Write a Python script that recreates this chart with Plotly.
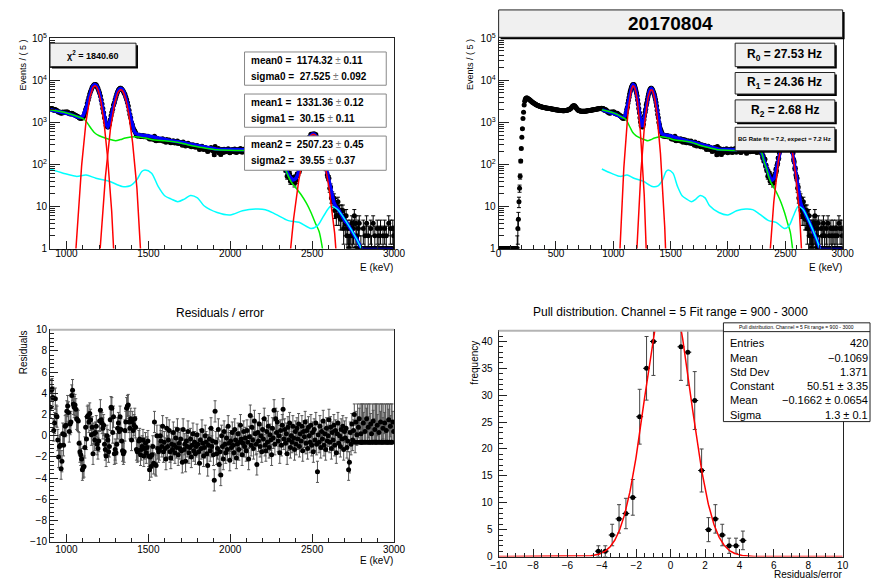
import numpy as np
import plotly.graph_objects as go

W, H = 883, 586
FONT = "Liberation Sans, Arial, Helvetica, sans-serif"

# ---------------- spectrum (5 keV bins) ----------------
# counts below the fit window, bins 0-900 keV
low_counts = [
    0, 0, 0, 0, 0, 0, 0, 0, 0, 0, 0, 0, 0, 0, 0, 0,
    0, 0, 0, 0, 0, 0, 0, 0, 0, 0, 0, 0, 0, 0, 0, 0,
    1, 3, 5, 13, 27, 52, 120, 240, 440, 710,
    1240, 1750, 2600, 3200, 3550, 3750, 3820, 3800, 3740, 3660,
    3570, 3480, 3390, 3300, 3220, 3140, 3060, 2990,
    2920, 2860, 2800, 2740, 2690, 2640, 2590, 2550, 2510, 2470,
    2440, 2410, 2380, 2360, 2340, 2320, 2300, 2280, 2260, 2250,
    2230, 2220, 2200, 2190, 2180, 2170, 2160, 2150, 2140, 2130,
    2110, 2100, 2090, 2080, 2060, 2050, 2040, 2020, 2010, 2000,
    1990, 1980, 1970, 1960, 1950, 1940, 1930, 1925, 1915, 1910,
    1905, 1900, 1900, 1895, 1900, 1905, 1910, 1920, 1935, 1950,
    1970, 1990, 2010, 2040, 2080, 2130, 2200, 2290, 2380, 2450,
    2490, 2500, 2470, 2400, 2300, 2200, 2100, 2030, 1970, 1930,
    1900, 1880, 1860, 1850, 1840, 1835, 1830, 1830, 1830, 1835,
    1840, 1850, 1860, 1870, 1880, 1890, 1900, 1910, 1920, 1930,
    1940, 1950, 1960, 1970, 1985, 2000, 2010, 2020, 2035, 2050,
    2060, 2070, 2085, 2100, 2110, 2120, 2130, 2140, 2150, 2170,
]

# counts in the fit window, bins 900-3000 keV
counts = [
    2086, 2140, 2129, 2080, 1932, 1947, 2030, 1947, 1927, 1818, 1734, 1762, 1751, 1642, 1662, 1764, 1706, 1734, 1754, 1736,
    1770, 1760, 1706, 1606, 1602, 1580, 1647, 1635, 1554, 1511, 1498, 1463, 1409, 1389, 1369, 1284, 1255, 1251, 1259, 1267,
    1344, 1459, 1701, 2027, 2306, 2837, 3372, 3964, 4723, 5438, 6091, 6844, 7213, 7781, 7920, 7932, 7704, 7067, 6383, 5671,
    4990, 4240, 3417, 2726, 2135, 1691, 1280, 1023, 848, 813, 780, 787, 903, 1152, 1432, 1749, 2045, 2582, 2927, 3516,
    4096, 4738, 5388, 5895, 6187, 6504, 6458, 6257, 5921, 5500, 5016, 4587, 4040, 3515, 2958, 2448, 1937, 1546, 1288, 998,
    880, 737, 664, 620, 563, 491, 476, 474, 493, 495, 460, 470, 476, 488, 455, 467, 475, 451, 458, 466,
    432, 400, 423, 401, 419, 430, 389, 465, 375, 367, 417, 388, 377, 377, 399, 386, 372, 407, 357, 373,
    360, 337, 392, 356, 365, 380, 339, 326, 348, 336, 365, 339, 324, 348, 330, 360, 313, 332, 320, 333,
    311, 287, 341, 303, 309, 276, 308, 295, 318, 279, 284, 295, 263, 281, 295, 266, 278, 256, 266, 283,
    263, 248, 227, 260, 245, 270, 249, 227, 237, 253, 241, 221, 203, 231, 238, 219, 251, 224, 229, 207,
    170, 268, 223, 205, 212, 238, 188, 205, 172, 227, 212, 193, 231, 213, 201, 221, 205, 237, 213, 189,
    216, 206, 227, 210, 199, 232, 217, 192, 211, 226, 204, 214, 238, 218, 196, 212, 229, 208, 220, 202,
    231, 215, 191, 222, 252, 210, 236, 218, 206, 245, 227, 212, 184, 228, 216, 240, 209, 224, 201, 233,
    219, 247, 210, 202, 229, 213, 235, 205, 222, 214, 193, 229, 215, 253, 205, 236, 212, 219, 185, 182,
    146, 157, 121, 128, 132, 93, 94, 74, 75, 52, 66, 52, 60, 40, 45, 40, 48, 42, 35, 49,
    42, 57, 56, 76, 70, 95, 106, 142, 139, 191, 218, 275, 278, 338, 345, 421, 440, 457, 519, 495,
    532, 495, 537, 502, 516, 446, 360, 396, 345, 332, 258, 245, 199, 188, 130, 116, 80, 80, 56, 48,
    47, 27, 29, 16, 18, 13, 16, 8, 12, 6, 10, 13, 6, 8, 5, 8, 5, 8, 3, 6,
    4, 6, 2, 3, 1, 1, 3, 2, 4, 2, 3, 6, 1, 4, 2, 0, 3, 4, 0, 1,
    0, 0, 3, 0, 2, 0, 4, 0, 2, 0, 0, 3, 1, 0, 4, 0, 2, 0, 0, 3,
    0, 2, 0, 3, 0, 0, 2, 0, 3, 0, 2, 0, 0, 4, 0, 3, 0, 0, 3, 2,
]

# (data - fit) / error for each bin of the fit window
residuals = [
    2.7, 4.3, 4.4, 3.6, 0.5, 1.2, 3.5, 1.9, 1.8, -0.4, -2.0, -1.0, -0.9, -3.1, -2.4, 0.2, -0.9, 0.1, 0.9, 1.0,
    2.3, 2.8, 2.2, 0.4, 1.1, 1.3, 3.8, 4.3, 3.0, 2.7, 2.9, 2.5, 1.6, 1.5, 1.4, -0.7, -1.5, -1.8, -2.2, -3.2,
    -3.0, -2.9, -1.1, 0.8, -0.3, 1.8, 1.9, 1.3, 2.1, 1.5, 0.1, 0.8, -1.7, 0.2, -0.4, 0.3, 0.9, -0.8, -1.2, -0.5,
    1.4, 2.4, 1.5, 1.2, 0.7, 1.0, -0.8, -1.3, -1.9, 0.0, -0.4, -1.5, -1.0, 1.5, 2.7, 2.6, 0.3, 1.8, -1.7, -1.3,
    -1.6, -0.8, 0.7, 1.2, 0.4, 1.8, 0.6, -0.5, -1.4, -1.7, -1.5, 0.5, 1.3, 2.6, 2.8, 2.9, 1.3, 0.7, 1.6, -0.4,
    1.3, 0.5, 1.0, 1.6, 0.8, -1.3, -1.5, -1.4, -0.5, -0.3, -1.8, -1.3, -1.0, -0.4, -1.9, -1.2, -0.7, -1.6, -1.1, -0.5,
    -1.9, -3.2, -2.0, -2.9, -1.8, -1.0, -2.6, 1.3, -2.7, -2.8, 0.0, -1.2, -1.5, -1.3, 0.0, -0.5, -1.0, 0.9, -1.5, -0.6,
    -1.2, -2.2, 0.7, -1.0, -0.4, 0.5, -1.5, -2.1, -0.8, -1.3, 0.3, -0.9, -1.6, -0.2, -1.1, 0.6, -1.8, -0.7, -1.2, -0.3,
    -1.4, -2.5, 0.6, -1.3, -0.8, -2.4, -0.5, -1.0, 0.4, -1.6, -1.1, -0.3, -2.0, -0.9, 0.2, -1.4, -0.6, -1.7, -1.0, 0.1,
    -0.8, -1.5, -2.6, -0.4, -1.2, 0.5, -0.7, -1.9, -1.1, 0.0, -0.6, -1.7, -2.8, -0.9, -0.3, -1.4, 0.7, -1.0, -0.5, -1.8,
    -4.2, 2.3, -0.6, -1.7, -1.2, 0.6, -2.7, -1.5, -3.7, 0.0, -1.0, -2.2, 0.4, -0.8, -1.6, -0.2, -1.3, 0.9, -0.7, -2.3,
    -0.5, -1.1, 0.3, -0.9, -1.6, 0.6, -0.4, -2.1, -0.8, 0.2, -1.3, -0.6, 1.0, -0.3, -1.8, -0.7, 0.4, -1.0, -0.2, -1.4,
    0.5, -0.6, -2.2, -0.1, 1.9, -0.9, 0.8, -0.4, -1.2, 1.4, 0.2, -0.8, -2.7, 0.3, -0.5, 1.1, -1.0, 0.0, -1.5, 0.6,
    -0.3, 1.6, -0.9, -1.4, 0.4, -0.6, 0.9, -1.1, 0.1, -0.4, -1.8, 0.7, -0.2, 2.4, -0.8, 1.6, 0.3, 1.3, -0.5, 0.0,
    -1.6, 0.5, -0.9, 1.0, 2.5, -0.3, 0.6, -0.7, 0.2, -1.7, 0.8, -0.4, 1.2, -1.1, 0.0, -0.6, 0.9, -0.2, -1.3, 0.4,
    -0.8, 0.7, -0.3, 1.1, -1.0, 0.2, -0.5, 0.9, -1.4, 0.4, -0.1, 1.3, -0.7, 0.5, -1.2, 0.8, 0.0, -0.6, 1.0, -0.9,
    0.3, -1.5, 0.6, -0.4, 1.2, -0.8, -3.4, 0.1, -0.6, 0.9, -1.1, 0.4, -0.3, 1.4, -0.9, 0.2, -1.3, 0.7, -0.5, 0.0,
    1.5, -0.6, 0.8, -1.2, 0.3, -0.4, 1.0, -0.9, 0.5, -1.6, 0.2, 1.2, -0.7, 0.0, -1.0, 0.6, -0.3, 0.9, -1.3, 0.4,
    -0.2, 0.7, -1.1, -0.5, -3.2, -2.5, 0.3, -0.8, 1.1, -0.4, 0.5, 2.0, -0.6, 1.3, 0.1, -0.6, 0.8, 1.6, -0.6, 0.2,
    -0.6, -0.6, 1.2, -0.6, 0.4, -0.6, 1.6, -0.6, 0.8, -0.6, -0.6, 1.1, 0.2, -0.6, 1.4, -0.6, 0.6, -0.6, -0.6, 1.0,
    -0.6, 0.3, -0.6, 1.3, -0.6, -0.6, 0.7, -0.6, 1.2, -0.6, 0.5, -0.6, -0.6, 1.5, -0.6, 0.9, -0.6, -0.6, 1.3, 0.4,
]

# total fit function sampled every 10 keV from 902.5 keV
fit_total = [
    1990, 1955, 1920, 1885, 1850, 1820, 1790, 1765, 1745, 1715,
    1680, 1620, 1560, 1500, 1440, 1390, 1352, 1318, 1309, 1339,
    1458, 1746, 2320, 3266, 4584, 6083, 7356, 7955, 7627, 6477,
    4895, 3333, 2103, 1309, 905, 791, 933, 1335, 2032, 3019,
    4198, 5338, 6156, 6411, 6027, 5121, 3959, 2812, 1881, 1232,
    842, 639, 545, 510, 504, 500, 498, 497, 491, 482,
    473, 466, 457, 444, 431, 417, 407, 399, 392, 387,
    383, 378, 373, 368, 363, 359, 354, 351, 347, 342,
    336, 330, 323, 317, 311, 303, 298, 292, 288, 283,
    276, 270, 265, 260, 255, 250, 247, 243, 240, 237,
    234, 232, 230, 229, 228, 227, 225, 225, 224, 223,
    223, 223, 223, 222, 222, 222, 222, 223, 223, 223,
    224, 224, 224, 224, 224, 224, 224, 224, 224, 224,
    223.5, 223, 223, 222, 221, 220, 218, 217, 208, 192,
    167, 131, 106, 88, 73, 60, 51.6, 45, 42.5, 44,
    47.5, 58, 78.5, 111, 157, 219, 290, 368, 440, 497,
    525, 523, 489, 431, 356, 276, 203, 141, 92, 60,
    38.2, 25, 17, 12.6, 10.3, 9.3, 8.2, 7.0, 5.9, 5.0,
    4.4, 4.1, 3.5, 2.9, 2.5, 2.1, 1.9, 1.7, 1.4, 1.1,
    0.95, 0.95, 0.95, 0.95, 0.95, 0.95, 0.95, 0.95, 0.95, 0.95,
    0.95, 0.95, 0.95, 0.95, 0.95, 0.95, 0.95, 0.95, 0.95, 0.95,
]

# continuum component (green)
bg_energy = [900, 1000, 1080, 1110, 1125, 1140, 1155, 1170, 1200, 1240, 1280, 1300, 1330, 1360,
             1420, 1480, 1540, 1600, 1680, 1760, 1840, 1920, 2040, 2150, 2230, 2270, 2290, 2300,
             2314, 2335, 2355, 2373, 2400, 2433, 2465, 2493, 2520, 2543, 2563, 2580]
bg_value = [2000, 1680, 1320, 1170, 1000, 820, 680, 575, 480, 420, 380, 367, 390, 424,
            455, 424, 380, 367, 337, 282, 248, 223, 215, 215, 222, 212, 195, 170,
            120, 80, 52, 38, 28, 19, 12, 7.2, 4.0, 2.5, 1.0, 0.4]

# secondary component (cyan)
aux_energy = [900, 980, 1060, 1120, 1180, 1260, 1340, 1390, 1430, 1460, 1480, 1520, 1560, 1600,
              1640, 1680, 1720, 1757, 1800, 1840, 1920, 2000, 2075, 2155, 2215, 2275, 2355, 2420,
              2493, 2533, 2572, 2612, 2652, 2711, 2771, 2801, 2820]
aux_value = [78, 62, 52, 56, 47, 40, 30, 31, 43, 68, 74, 62, 30, 18,
             15, 13, 15, 18.3, 16, 10.4, 7.2, 6.3, 7.9, 8.7, 8.4, 6.6, 4.6, 4.2,
             3.0, 3.5, 6.1, 10, 8.7, 4.2, 1.7, 1.0, 0.7]

# gaussian peak parameters
peak_means = [1174.32, 1331.36, 2507.23]
peak_mean_errs = [0.11, 0.12, 0.45]
peak_sigmas = [27.525, 30.15, 39.55]
peak_sigma_errs = [0.092, 0.11, 0.37]
peak_heights = [7400, 6000, 520]

rates_hz = [27.53, 24.36, 2.68]
chi2 = 1840.60
bg_rate_fit, bg_rate_expect = 7.2, 7.2
run_label = "20170804"

# ---------------- pull distribution ----------------
pull_centers = [-4.2, -3.8, -3.4, -3.0, -2.6, -2.2, -1.8, -1.4, -1.0, -0.6, -0.2,
                0.2, 0.6, 1.0, 1.4, 1.8, 2.2, 2.6, 3.0, 3.4, 3.8, 4.2]
pull_counts = [1, 1, 4, 7, 8, 11, 26, 35, 40, 46, 49,
               47, 39, 38, 29, 16, 5, 7, 4, 2, 2, 3]
pull_constant, pull_constant_err = 50.51, 3.35
pull_mean, pull_mean_err = -0.1662, 0.0654
pull_sigma, pull_sigma_err = 1.3, 0.1
pull_entries, pull_hist_mean, pull_std = 420, -0.1069, 1.371
pull_title = "Pull distribution. Channel = 5 Fit range = 900 - 3000"

# ---------------- derived arrays ----------------
BIN = 5.0
E_low = BIN / 2 + BIN * np.arange(len(low_counts))
E_fit = 900 + BIN / 2 + BIN * np.arange(len(counts))
E_curve = 900 + BIN / 2 + 2 * BIN * np.arange(len(fit_total))

c_fit = np.array(counts, float)
c_all = np.concatenate([np.array(low_counts, float), c_fit])
E_all = np.concatenate([E_low, E_fit])


def data_points(c):
    shown = np.where(c > 0, c, 1.0)
    up = np.where(c > 0, np.sqrt(c), 0.0)
    dn = np.where(c > 0, c - np.maximum(c - np.sqrt(c), 0.05), 0.0)
    return shown, up, dn


def gauss(x, a, mu, s):
    return a * np.exp(-0.5 * ((x - mu) / s) ** 2)


fig = go.Figure()


def add_spectrum(E, c, xa, ya):
    shown, up, dn = data_points(c)
    fig.add_trace(go.Scatter(
        x=E, y=shown, mode="markers", xaxis=xa, yaxis=ya, showlegend=False,
        marker=dict(color="black", size=5),
        error_y=dict(type="data", symmetric=False, array=up, arrayminus=dn,
                     color="black", thickness=1, width=2)))
    fig.add_trace(go.Scatter(x=E_curve, y=fit_total, mode="lines", xaxis=xa, yaxis=ya,
                             showlegend=False, line=dict(color="#0000ff", width=3.5)))
    fig.add_trace(go.Scatter(x=bg_energy, y=bg_value, mode="lines", xaxis=xa, yaxis=ya,
                             showlegend=False,
                             line=dict(color="#00ee00", width=1.5, shape="spline", smoothing=0.8)))
    fig.add_trace(go.Scatter(x=aux_energy, y=aux_value, mode="lines", xaxis=xa, yaxis=ya,
                             showlegend=False,
                             line=dict(color="#00ffff", width=1.5, shape="spline", smoothing=0.8)))
    for a, mu, s in zip(peak_heights, peak_means, peak_sigmas):
        xg = np.linspace(mu - 6 * s, mu + 6 * s, 400)
        fig.add_trace(go.Scatter(x=xg, y=gauss(xg, a, mu, s), mode="lines", xaxis=xa, yaxis=ya,
                                 showlegend=False, line=dict(color="#ff0000", width=1.5)))


add_spectrum(E_fit, c_fit, "x", "y")
add_spectrum(E_all, c_all, "x2", "y2")

# residuals
res = np.array(residuals)
res_up = np.where(c_fit == 0, 3.6, 1.0)
res_dn = np.where(c_fit == 0, 0.0, 1.0)
fig.add_trace(go.Scatter(
    x=E_fit, y=res, mode="markers", xaxis="x3", yaxis="y3", showlegend=False,
    marker=dict(color="black", size=5),
    error_y=dict(type="data", symmetric=False, array=res_up, arrayminus=res_dn,
                 color="#555", thickness=1, width=1.5)))

# pull histogram
PULL_YMAX = 42
pc = np.array(pull_counts, float)
px_ = np.array(pull_centers)
vis = pc <= PULL_YMAX
fig.add_trace(go.Scatter(
    x=px_[vis], y=pc[vis], mode="markers", xaxis="x4", yaxis="y4", showlegend=False,
    marker=dict(color="black", size=5),
    error_y=dict(type="data", array=np.sqrt(pc[vis]), color="#444", thickness=1, width=2),
    error_x=dict(type="constant", value=0.2, color="black", thickness=1, width=0)))
xg = np.linspace(-10, 10, 801)
fig.add_trace(go.Scatter(x=xg, y=gauss(xg, pull_constant, pull_mean, pull_sigma), mode="lines",
                         xaxis="x4", yaxis="y4", showlegend=False,
                         line=dict(color="#ff0000", width=1.5)))


# ---------------- axes ----------------
def dom_x(a, b):
    return [a / W, b / W]


def dom_y(top, bottom):
    return [1 - bottom / H, 1 - top / H]


def axis(**kw):
    d = dict(showline=True, linecolor="#222", linewidth=1, mirror=True, ticks="inside",
             ticklen=8, tickwidth=1, tickcolor="#222", showgrid=False, zeroline=False,
             tickfont=dict(family=FONT, size=10, color="black"))
    d.update(kw)
    return d


def minor(**kw):
    d = dict(ticks="inside", ticklen=4, tickwidth=1, tickcolor="#222", showgrid=False)
    d.update(kw)
    return d


log_major = [1, 10, 100, 1000, 1e4, 1e5]
log_text = ["1", "10", "10<sup>2</sup>", "10<sup>3</sup>", "10<sup>4</sup>", "10<sup>5</sup>"]
log_minor = [m * 10 ** k for k in range(5) for m in range(2, 10)]

ylog = dict(type="log", range=[0, 5], tickmode="array", tickvals=log_major, ticktext=log_text,
            minor=minor(tickmode="array", tickvals=log_minor, ticklen=5), ticklen=10)

TOP = (32, 247)
fig.update_layout(
    width=W, height=H, margin=dict(l=0, r=0, t=0, b=0),
    paper_bgcolor="white", plot_bgcolor="white", showlegend=False,
    xaxis=axis(domain=dom_x(43, 395), range=[900, 3000], anchor="y", tick0=0, dtick=500,
               minor=minor(dtick=100), ticklabelstandoff=-5),
    yaxis=axis(domain=dom_y(*TOP), anchor="x", **ylog),
    xaxis2=axis(domain=dom_x(502, 854), range=[0, 3000], anchor="y2", tick0=0, dtick=500,
                minor=minor(dtick=100), ticklabelstandoff=-5),
    yaxis2=axis(domain=dom_y(*TOP), anchor="x2", **ylog),
    xaxis3=axis(domain=dom_x(43, 395), range=[900, 3000], anchor="y3", tick0=0, dtick=500,
                minor=minor(dtick=100), ticklabelstandoff=-2),
    yaxis3=axis(domain=dom_y(330, 547), range=[-10, 10], anchor="x3", tick0=0, dtick=2,
                minor=minor(dtick=0.4)),
    xaxis4=axis(domain=dom_x(502, 854), range=[-10, 10], anchor="y4", tick0=0, dtick=2,
                minor=minor(dtick=0.5), ticklabelstandoff=-1),
    yaxis4=axis(domain=dom_y(331, 562), range=[0, PULL_YMAX], anchor="x4", tick0=0, dtick=5,
                minor=minor(dtick=1), ticklabelstandoff=3),
)

# ---------------- boxes and labels ----------------
shapes, ann = [], []


def rect(x0, y0, x1, y1, fill, line, lw=1):
    shapes.append(dict(type="rect", xref="paper", yref="paper", x0=x0 / W, x1=x1 / W,
                       y0=1 - y1 / H, y1=1 - y0 / H, fillcolor=fill,
                       line=dict(color=line, width=lw), layer="above"))


def hline(x0, x1, y, color, lw):
    shapes.append(dict(type="line", xref="paper", yref="paper", x0=x0 / W, x1=x1 / W,
                       y0=1 - y / H, y1=1 - y / H, line=dict(color=color, width=lw), layer="above"))


def pave(x0, y0, x1, y1):
    rect(x0 + 2, y0 + 2, x1 + 2, y1 + 2, "black", "black", 0)
    rect(x0, y0, x1, y1, "#f0f0f0", "#222", 1)


def text(x, y, s, size, xanchor="center", yanchor="middle", angle=0, color="black"):
    ann.append(dict(x=x / W, y=1 - y / H, xref="paper", yref="paper", text=s, showarrow=False,
                    font=dict(family=FONT, size=size, color=color), xanchor=xanchor,
                    yanchor=yanchor, textangle=angle, borderpad=0))


NB = "\u00a0"
PM = "<span style='color:#777'>±</span>"

# top-left: chi2 and fitted peak parameters
pave(43, 37, 131, 61)
text(87, 49, f"<b>χ<sup>2</sup> = {chi2:.2f}</b>", 9)
box_rows = [(46, 80), (89, 123), (132, 167)]
for i, (y0, y1) in enumerate(box_rows):
    rect(242, y0, 387, y1, "white", "#888", 1)
    text(248, y0 + 9, f"<b>mean{i} ={NB}{NB}{peak_means[i]}</b> {PM} <b>{peak_mean_errs[i]}</b>",
         10, xanchor="left")
    text(248, y0 + 25, f"<b>sigma{i} ={NB}{NB}{peak_sigmas[i]}</b> {PM} <b>{peak_sigma_errs[i]}</b>",
         10, xanchor="left")

# top-right: run label and rates
pave(502, 3, 854, 31)
text(678, 17, f"<b>{run_label}</b>", 19)
rate_rows = [(37, 61), (67, 89), (95, 118)]
for i, (y0, y1) in enumerate(rate_rows):
    pave(744, y0, 846, y1)
    text(795, (y0 + y1) / 2, f"<b>R<sub>{i}</sub> = {rates_hz[i]:.2f} Hz</b>", 12)
pave(744, 123, 846, 147)
text(795, 135, f"<b>BG Rate fit = {bg_rate_fit}, expect = {bg_rate_expect} Hz</b>", 6)

# axis titles
text(15, 32, "Events / ( 5 )", 9, yanchor="top", angle=-90)
text(472, 32, "Events / ( 5 )", 9, yanchor="top", angle=-90)
text(395, 266, "E (keV)", 10, xanchor="right")
text(854, 266, "E (keV)", 10, xanchor="right")
text(395, 566, "E (keV)", 10, xanchor="right")
text(854, 580, "Residuals/error", 10, xanchor="right")
text(16, 330, "Residuals", 10, yanchor="top", angle=-90)
text(477, 340, "frequency", 10, yanchor="top", angle=-90)

# bottom titles and frame tops
text(217, 313, "Residuals / error", 12)
text(678, 312, pull_title, 12)
hline(43, 395, 330, "#b4b4b4", 2)
hline(502, 854, 331, "#b4b4b4", 2)


# stats box
def fmt(v):
    return f"{v}".replace("-", "−")


rect(732, 323, 882, 424, "white", "#222", 1)
hline(732, 882, 332, "#222", 1)
text(807, 327.5, pull_title, 5)
stat_rows = [
    ("Entries", fmt(pull_entries)),
    ("Mean", fmt(pull_hist_mean)),
    ("Std Dev", fmt(pull_std)),
    ("Constant", f"{fmt(pull_constant)} ± {fmt(pull_constant_err)}"),
    ("Mean", f"{fmt(pull_mean)} ± {fmt(pull_mean_err)}"),
    ("Sigma", f"{fmt(pull_sigma)} ± {fmt(pull_sigma_err)}"),
]
for k, (lab, val) in enumerate(stat_rows):
    yc = 344 + 14.6 * k
    text(738, yc, lab, 11, xanchor="left")
    text(881, yc, val, 11, xanchor="right")

fig.update_layout(shapes=shapes, annotations=ann)
fig.write_html("out.html")
